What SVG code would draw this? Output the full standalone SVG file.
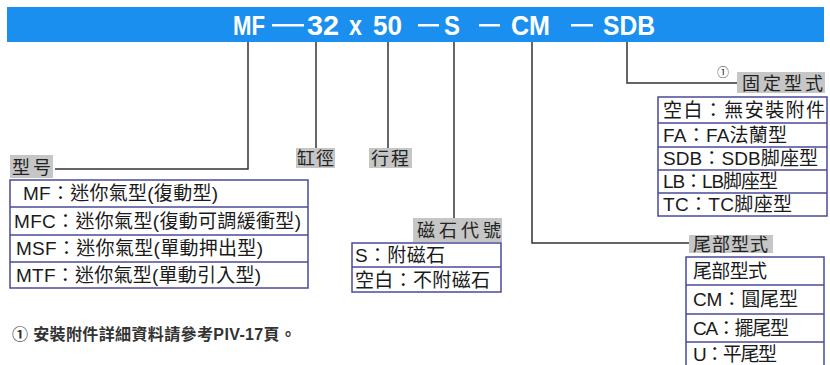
<svg xmlns="http://www.w3.org/2000/svg" width="830" height="365" viewBox="0 0 830 365">
<style>
.ban{font-family:"Liberation Sans",Arial,sans-serif;font-weight:bold;font-size:27px;fill:#fff}
.t{font-family:"Liberation Sans","Noto Sans CJK TC",sans-serif;font-size:19px;fill:#1a1a1a}
.lbl{font-family:"Noto Sans CJK TC",sans-serif;font-size:18px;fill:#222}
.gb{fill:#c6c6c6}
.tb{fill:#fff;stroke:#4a4a9a;stroke-width:1.5}
.dv{stroke:#4a4a9a;stroke-width:1.5}
.cn{fill:none;stroke:#333;stroke-width:1.5}
.fn{font-family:"Liberation Sans","Noto Sans CJK TC",sans-serif;font-size:16px;font-weight:bold;fill:#333}
</style>
<rect width="830" height="365" fill="#fff"/>
<g id="banner">
<rect x="7" y="7" width="817" height="35" fill="#1a8fef"/>
<text class="ban" x="233" y="35" textLength="32" lengthAdjust="spacingAndGlyphs">MF</text>
<rect x="272" y="24" width="32" height="2.5" fill="#fff"/>
<text class="ban" x="307" y="35" textLength="32" lengthAdjust="spacingAndGlyphs">32</text>
<text class="ban" x="349" y="35" textLength="13" lengthAdjust="spacingAndGlyphs">x</text>
<text class="ban" x="373" y="35" textLength="29" lengthAdjust="spacingAndGlyphs">50</text>
<rect x="418" y="24" width="21" height="2.5" fill="#fff"/>
<text class="ban" x="444" y="35" textLength="16" lengthAdjust="spacingAndGlyphs">S</text>
<rect x="479" y="24" width="21" height="2.5" fill="#fff"/>
<text class="ban" x="511" y="35" textLength="39" lengthAdjust="spacingAndGlyphs">CM</text>
<rect x="571" y="24" width="22" height="2.5" fill="#fff"/>
<text class="ban" x="603" y="35" textLength="52" lengthAdjust="spacingAndGlyphs">SDB</text>
</g>
<g id="connectors">
<polyline class="cn" points="248,42 248,169 55,169"/>
<line class="cn" x1="316" y1="42" x2="316" y2="148"/>
<line class="cn" x1="388" y1="42" x2="388" y2="148"/>
<line class="cn" x1="454" y1="42" x2="454" y2="218"/>
<polyline class="cn" points="532,42 532,243 689,243"/>
<polyline class="cn" points="627,42 627,83 737,83"/>
</g>
<g id="model">
<rect class="gb" x="10" y="155" width="43" height="23"/>
<text class="lbl" x="12" y="174" textLength="39" lengthAdjust="spacing">型号</text>
<rect class="tb" x="10" y="180" width="298" height="108"/>
<line class="dv" x1="10" y1="207" x2="308" y2="207"/>
<line class="dv" x1="10" y1="235" x2="308" y2="235"/>
<line class="dv" x1="10" y1="262" x2="308" y2="262"/>
<text class="t" x="23" y="200" textLength="195" lengthAdjust="spacing">MF：迷你氣型(復動型)</text>
<text class="t" x="14" y="228" textLength="287" lengthAdjust="spacing">MFC：迷你氣型(復動可調緩衝型)</text>
<text class="t" x="16" y="255" textLength="247" lengthAdjust="spacing">MSF：迷你氣型(單動押出型)</text>
<text class="t" x="16" y="282" textLength="245" lengthAdjust="spacing">MTF：迷你氣型(單動引入型)</text>
</g>
<g id="bore">
<rect class="gb" x="296" y="148" width="39" height="20"/>
<text class="lbl" x="297" y="165" textLength="37" lengthAdjust="spacing">缸徑</text>
</g>
<g id="stroke">
<rect class="gb" x="369" y="148" width="43" height="20"/>
<text class="lbl" x="371" y="165" textLength="38" lengthAdjust="spacing">行程</text>
</g>
<g id="magnet">
<rect class="gb" x="413" y="218" width="89" height="24"/>
<text class="lbl" x="417" y="237" textLength="84" lengthAdjust="spacing">磁石代號</text>
<rect class="tb" x="352" y="243" width="149" height="49"/>
<line class="dv" x1="352" y1="267" x2="501" y2="267"/>
<text class="t" x="355" y="262" textLength="90" lengthAdjust="spacing">S：附磁石</text>
<text class="t" x="355" y="287" textLength="135" lengthAdjust="spacing">空白：不附磁石</text>
</g>
<g id="mount">
<text x="723" y="77" text-anchor="middle" style="font-family:'Noto Sans CJK TC',sans-serif;font-size:12px;fill:#333">①</text>
<rect class="gb" x="737" y="72" width="88" height="21"/>
<text class="lbl" x="742" y="90" textLength="81" lengthAdjust="spacing">固定型式</text>
<rect class="tb" x="658" y="97" width="169" height="119"/>
<line class="dv" x1="658" y1="123" x2="827" y2="123"/>
<line class="dv" x1="658" y1="147" x2="827" y2="147"/>
<line class="dv" x1="658" y1="170" x2="827" y2="170"/>
<line class="dv" x1="658" y1="193" x2="827" y2="193"/>
<text class="t" x="663" y="117" textLength="162" lengthAdjust="spacing">空白：無安裝附件</text>
<text class="t" x="663" y="142" textLength="124" lengthAdjust="spacing">FA：FA法蘭型</text>
<text class="t" x="663" y="165" textLength="155" lengthAdjust="spacing">SDB：SDB脚座型</text>
<text class="t" x="663" y="188" textLength="115" lengthAdjust="spacing">LB：LB脚座型</text>
<text class="t" x="663" y="211" textLength="129" lengthAdjust="spacing">TC：TC脚座型</text>
</g>
<g id="rear">
<rect class="gb" x="689" y="235" width="84" height="18"/>
<text class="lbl" x="693" y="251" textLength="75" lengthAdjust="spacing">尾部型式</text>
<rect class="tb" x="686" y="257" width="138" height="115"/>
<line class="dv" x1="686" y1="285" x2="824" y2="285"/>
<line class="dv" x1="686" y1="314" x2="824" y2="314"/>
<line class="dv" x1="686" y1="342" x2="824" y2="342"/>
<text class="t" x="693" y="278" textLength="74" lengthAdjust="spacing">尾部型式</text>
<text class="t" x="693" y="306" textLength="105" lengthAdjust="spacing">CM：圓尾型</text>
<text class="t" x="693" y="335" textLength="96" lengthAdjust="spacing">CA：擺尾型</text>
<text class="t" x="693" y="361" textLength="84" lengthAdjust="spacing">U：平尾型</text>
</g>
<g id="note">
<text class="fn" x="12" y="340" textLength="284" lengthAdjust="spacing">① 安裝附件詳細資料請參考PIV-17頁。</text>
</g>
</svg>
